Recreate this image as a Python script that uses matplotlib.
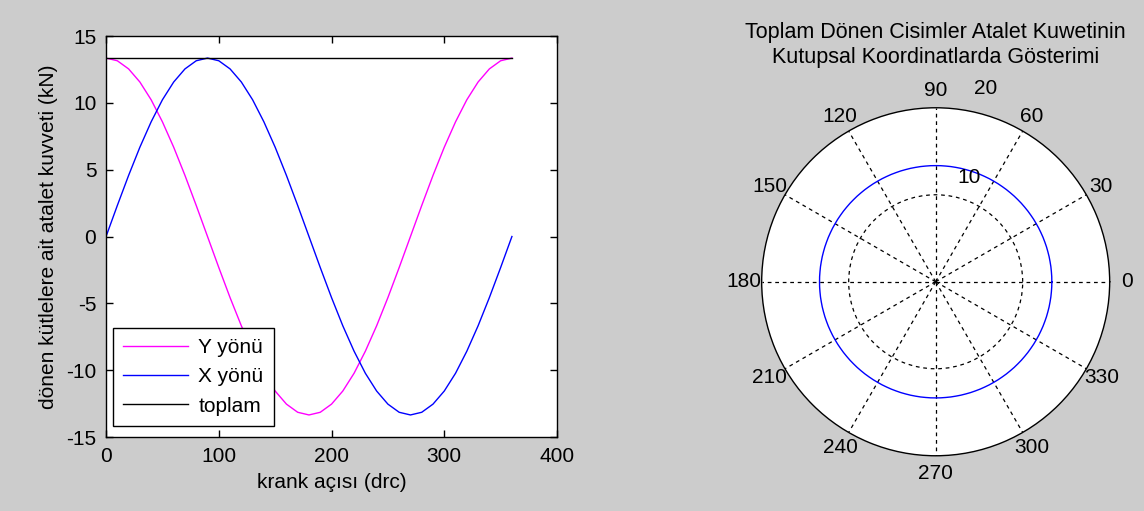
import numpy as np
import matplotlib
matplotlib.use('Agg')
import matplotlib.pyplot as plt

# krank angle (deg) and forces (kN)
aci = [0, 10, 20, 30, 40, 50, 60, 70, 80, 90, 100, 110, 120, 130, 140, 150, 160, 170, 180,
       190, 200, 210, 220, 230, 240, 250, 260, 270, 280, 290, 300, 310, 320, 330, 340, 350, 360]
y_yonu = [13.35, 13.15, 12.54, 11.56, 10.23, 8.58, 6.68, 4.57, 2.32, 0.0,
          -2.32, -4.57, -6.68, -8.58, -10.23, -11.56, -12.54, -13.15, -13.35,
          -13.15, -12.54, -11.56, -10.23, -8.58, -6.68, -4.57, -2.32, 0.0,
          2.32, 4.57, 6.68, 8.58, 10.23, 11.56, 12.54, 13.15, 13.35]
x_yonu = [0.0, 2.32, 4.57, 6.68, 8.58, 10.23, 11.56, 12.54, 13.15, 13.35,
          13.15, 12.54, 11.56, 10.23, 8.58, 6.68, 4.57, 2.32, 0.0,
          -2.32, -4.57, -6.68, -8.58, -10.23, -11.56, -12.54, -13.15, -13.35,
          -13.15, -12.54, -11.56, -10.23, -8.58, -6.68, -4.57, -2.32, 0.0]
toplam = [13.35] * len(aci)

# polar plot: total force vs angle
polar_aci = aci
polar_r = [13.35] * len(aci)

xticks = [0, 100, 200, 300, 400]
yticks = [-15, -10, -5, 0, 5, 10, 15]
aci_etiket = [0, 30, 60, 90, 120, 150, 180, 210, 240, 270, 300, 330]

plt.rcParams['font.family'] = ['Liberation Sans', 'DejaVu Sans']
plt.rcParams['font.size'] = 15
plt.rcParams['axes.unicode_minus'] = False

bg = '#cccccc'
fig = plt.figure(figsize=(11.44, 5.11), dpi=100, facecolor=bg)

### left: line plot
ax = fig.add_axes([0.0927, 0.1448, 0.3942, 0.7847])
ax.plot(aci, y_yonu, color='#ff00ff', lw=1, label='Y yönü')
ax.plot(aci, x_yonu, color='#0000ff', lw=1, label='X yönü')
ax.plot(aci, toplam, color='black', lw=1, label='toplam')
ax.set_xlim(0, 400)
ax.set_ylim(-15, 15)
ax.set_xticks(xticks)
ax.set_yticks(yticks)
ax.tick_params(direction='in', top=True, right=True, length=5, width=1, pad=7)
for s in ax.spines.values():
    s.set_linewidth(1)
ax.set_xlabel('krank açısı (drc)', labelpad=5)
ax.set_ylabel('dönen kütlelere ait atalet kuvveti (kN)', labelpad=6)
leg = ax.legend(loc='lower left', bbox_to_anchor=(0.015, 0.027), borderaxespad=0,
                fancybox=False, framealpha=1, edgecolor='black',
                handlelength=3.1, labelspacing=0.5, borderpad=0.5, handletextpad=0.5)
leg.get_frame().set_linewidth(1)

### right: polar plot
pax = fig.add_axes([0.6658, 0.1081, 0.3042, 0.681], projection='polar')
pax.set_facecolor('white')
ln = pax.plot(np.deg2rad(polar_aci), polar_r, color='#0000ff', lw=1)[0]
ln.get_path()._interpolation_steps = 20
pax.set_ylim(0, 20)
pax.set_rticks([10])
pax.set_yticklabels([])
pax.set_xticks(np.deg2rad(aci_etiket))
pax.set_xticklabels([])
pax.grid(True, color='black', linestyle=(0, (3, 3)), lw=0.9)
pax.spines['polar'].set_linewidth(1)
for a in aci_etiket:
    pax.text(np.deg2rad(a), 22, str(a), ha='center', va='center')
pax.text(np.deg2rad(72), 12.6, '10', ha='center', va='center')
pax.text(np.deg2rad(75.5), 22.9, '20', ha='center', va='center')
pax.set_title('Toplam Dönen Cisimler Atalet Kuwetinin\nKutupsal Koordinatlarda Gösterimi',
              fontsize=15.5, pad=32, linespacing=1.3)

fig.savefig('out.png', dpi=100, facecolor=bg)
